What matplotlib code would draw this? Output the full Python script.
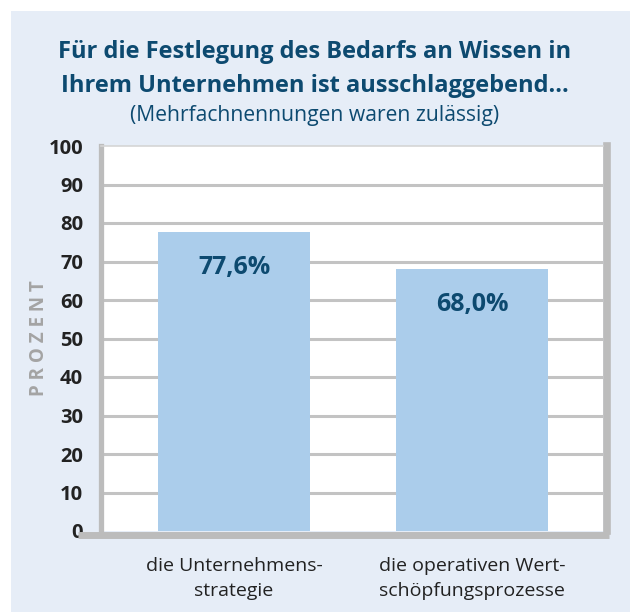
import matplotlib
matplotlib.use('agg')
import matplotlib.pyplot as plt
from matplotlib.patches import Rectangle
from matplotlib.lines import Line2D

# Chart data
categories = ["die Unternehmens-\nstrategie", "die operativen Wert-\nschöpfungsprozesse"]
values = [77.6, 68.0]
value_labels = ["77,6%", "68,0%"]
yticks = [0, 10, 20, 30, 40, 50, 60, 70, 80, 90, 100]

title_lines = ["Für die Festlegung des Bedarfs an Wissen in",
               "Ihrem Unternehmen ist ausschlaggebend..."]
subtitle = "(Mehrfachnennungen waren zulässig)"

plt.rcParams['font.family'] = ['Open Sans', 'DejaVu Sans']

W, H = 630, 614
fig = plt.figure(figsize=(W / 100, H / 100), dpi=100, facecolor='white')

# light blue panel behind everything
fig.add_artist(Rectangle((11 / W, 1 - 612 / H), (W - 11) / W, (612 - 11) / H,
                         transform=fig.transFigure, facecolor='#e6edf7',
                         edgecolor='none', zorder=-5))

navy = '#0d4a70'
fig.text(0.5, 1 - 52 / H, title_lines[0], ha='center', va='center', fontsize=17,
         fontweight='bold', color=navy)
fig.text(0.5, 1 - 86 / H, title_lines[1], ha='center', va='center', fontsize=17,
         fontweight='bold', color=navy)
fig.text(0.5, 1 - 115 / H, subtitle, ha='center', va='center', fontsize=15.2,
         color=navy)

ax = fig.add_axes([101 / W, 1 - 531 / H, (603 - 101) / W, (531 - 146) / H])
ax.set_facecolor('white')

# spines first: set_position resets the ticks of the axis
grey = '#bcbcbc'
ax.spines['top'].set_color('#d5d5d5')
ax.spines['top'].set_linewidth(1.2)
ax.spines['left'].set_color(grey)
ax.spines['left'].set_linewidth(3.8)
ax.spines['right'].set_color(grey)
ax.spines['right'].set_linewidth(5.5)
ax.spines['right'].set_position(('outward', 3))
ax.spines['bottom'].set_visible(False)
# bottom rule, reaching a little left of the axis
ax.add_line(Line2D([-0.045, 1.012], [-0.01, -0.01], transform=ax.transAxes,
                   color=grey, lw=5, clip_on=False, zorder=5,
                   solid_capstyle='butt'))

x = list(range(len(values)))
bars = ax.bar(x, values, width=0.64, color='#abcdeb', zorder=3)
for b, lab in zip(bars, value_labels):
    ax.text(b.get_x() + b.get_width() / 2, b.get_height() - 9.2, lab,
            ha='center', va='center', fontsize=18, fontweight='bold',
            color=navy, zorder=4)

for t in yticks[1:-1]:
    ax.axhline(t, color='#c3c3c3', lw=2.2, zorder=1)

ax.set_ylim(0, 100)
ax.set_xlim(-0.559, 1.55)
ax.set_yticks(yticks)
ax.set_yticklabels([str(t) for t in yticks], fontweight='bold')
ax.set_xticks(x)
ax.set_xticklabels(categories, linespacing=1.5)
ax.tick_params(axis='y', length=0, pad=13, labelsize=14.5, labelcolor='#222222')
ax.tick_params(axis='x', length=0, pad=18.5, labelsize=14, labelcolor='#222222')

ax.set_ylabel("P R O Z E N T", fontsize=13.5, fontweight='bold', color='#a4a4a4')
ax.yaxis.set_label_coords(-0.103, 0.5)

fig.savefig('out.png', dpi=100, facecolor='white')
